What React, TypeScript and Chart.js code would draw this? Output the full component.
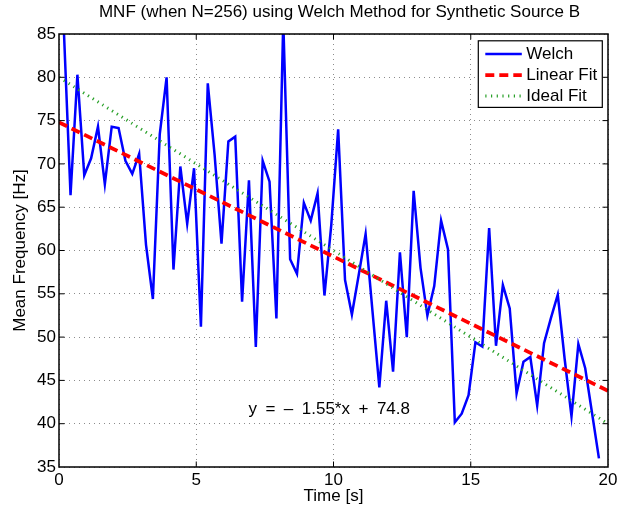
import React, { useEffect, useRef } from "react";
import { Chart, registerables } from "chart.js";

Chart.register(...registerables);

// ---- data ----
const times = [
  0.17, 0.42, 0.67, 0.92, 1.17, 1.42, 1.67, 1.92, 2.17, 2.42,
  2.67, 2.92, 3.17, 3.42, 3.67, 3.92, 4.17, 4.42, 4.67, 4.92,
  5.17, 5.42, 5.67, 5.92, 6.17, 6.42, 6.67, 6.92, 7.17, 7.42,
  7.67, 7.92, 8.17, 8.42, 8.67, 8.92, 9.17, 9.42, 9.67, 9.92,
  10.17, 10.42, 10.67, 10.92, 11.17, 11.42, 11.67, 11.92, 12.17, 12.42,
  12.67, 12.92, 13.17, 13.42, 13.67, 13.92, 14.17, 14.42, 14.67, 14.92,
  15.17, 15.42, 15.67, 15.92, 16.17, 16.42, 16.67, 16.92, 17.17, 17.42,
  17.67, 17.92, 18.17, 18.42, 18.67, 18.92, 19.17, 19.42, 19.67,
];
const welch = [
  86, 66.4, 80.3, 68.7, 70.65, 74.3, 67.65, 74.3, 74.15, 70.35,
  68.85, 71.15, 60.65, 54.4, 73.4, 80.0, 57.8, 69.7, 63.1, 69.5,
  51.2, 79.3, 71, 60.8, 72.6, 73.15, 54.1, 68.1, 48.85, 70.35,
  67.95, 52.15, 86.5, 59.0, 57.3, 65.5, 63.45, 66.6, 54.8, 63,
  74.0, 56.6, 52.6, 57.2, 61.9, 53, 44.2, 54.2, 46.0, 59.8,
  50.0, 66.9, 58.0, 52.5, 55.9, 63.45, 60.15, 40.15, 41.15, 43.3,
  49.4, 48.9, 62.6, 49.0, 56.0, 53.3, 43.5, 47.15, 47.7, 42.1,
  49.3, 52.2, 54.9, 47.5, 40.85, 49.2, 46.4, 41.2, 36.0,
];
const fitSlope = -1.55;
const fitIntercept = 74.8;
const fitX = [0, 20];
const idealX = [0, 20];
const idealY = [80, 40];
const seriesLabels = ["Welch", "Linear Fit", "Ideal Fit"];
const titleText = "MNF (when N=256) using Welch Method for Synthetic Source B";
const xTitle = "Time [s]";
const yTitle = "Mean Frequency [Hz]";
const equationText = "y\u2002=\u2002\u2013\u20021.55*x\u2002+\u200274.8";
const equationAt = { x: 6.9, y: 41.7 };

const FONT = "'Liberation Sans', Arial, Helvetica, sans-serif";
const FS = 17;

export default function App() {
  const ref = useRef<HTMLCanvasElement>(null);

  useEffect(() => {
    const canvas = ref.current;
    if (!canvas) return;

    const overlay = {
      id: "matlabOverlay",
      afterDatasetsDraw(chart: any) {
        const { ctx, chartArea: a, scales } = chart;
        const xs = scales.x;
        const ys = scales.y;
        ctx.save();
        ctx.setLineDash([]);
        // axes box
        ctx.strokeStyle = "#000";
        ctx.lineWidth = 1.5;
        ctx.strokeRect(a.left, a.top, a.right - a.left, a.bottom - a.top);
        // inward ticks
        const tl = 5.5;
        ctx.lineWidth = 1;
        const seg = (x1: number, y1: number, x2: number, y2: number) => {
          ctx.beginPath();
          ctx.moveTo(x1, y1);
          ctx.lineTo(x2, y2);
          ctx.stroke();
        };
        xs.ticks.forEach((t: any) => {
          const px = xs.getPixelForValue(t.value);
          if (px <= a.left + 1 || px >= a.right - 1) return;
          seg(px, a.bottom, px, a.bottom - tl);
          seg(px, a.top, px, a.top + tl);
        });
        ys.ticks.forEach((t: any) => {
          const py = ys.getPixelForValue(t.value);
          if (py <= a.top + 1 || py >= a.bottom - 1) return;
          seg(a.left, py, a.left + tl, py);
          seg(a.right, py, a.right - tl, py);
        });
        // title
        ctx.font = `${FS}px ${FONT}`;
        ctx.fillStyle = "#000";
        ctx.textAlign = "center";
        ctx.textBaseline = "middle";
        ctx.fillText(titleText, (a.left + a.right) / 2 + 6, 12.5);
        // equation text
        ctx.textAlign = "left";
        ctx.fillText(
          equationText,
          xs.getPixelForValue(equationAt.x),
          ys.getPixelForValue(equationAt.y)
        );
        // legend
        const bw = 124;
        const bh = 66.6;
        const bx = a.right - 5.7 - bw;
        const by = a.top + 6.8;
        ctx.fillStyle = "#fff";
        ctx.fillRect(bx, by, bw, bh);
        ctx.strokeStyle = "#000";
        ctx.lineWidth = 1.2;
        ctx.strokeRect(bx, by, bw, bh);
        chart.data.datasets.forEach((ds: any, i: number) => {
          const y = by + 13.3 + i * 21;
          ctx.save();
          ctx.strokeStyle = ds.borderColor;
          ctx.lineWidth = ds.borderWidth;
          ctx.setLineDash(ds.borderDash || []);
          ctx.lineCap = "butt";
          seg(bx + 7, y, bx + 43.5, y);
          ctx.restore();
          ctx.fillStyle = "#000";
          ctx.textAlign = "left";
          ctx.textBaseline = "middle";
          ctx.fillText(ds.label, bx + 48, y);
        });
        ctx.restore();
      },
    };

    const tickFont = { family: FONT, size: FS, weight: "normal" as const };

    const chart = new Chart(canvas, {
      type: "line",
      data: {
        datasets: [
          {
            label: seriesLabels[0],
            data: times.map((t, i) => ({ x: t, y: welch[i] })),
            borderColor: "#0000ff",
            borderWidth: 2.5,
            pointRadius: 0,
            tension: 0,
            clip: 0,
            order: 3,
          },
          {
            label: seriesLabels[1],
            data: fitX.map((x) => ({ x, y: fitSlope * x + fitIntercept })),
            borderColor: "#ff0000",
            borderWidth: 3.8,
            borderDash: [9, 5],
            pointRadius: 0,
            tension: 0,
            clip: 0,
            order: 2,
          },
          {
            label: seriesLabels[2],
            data: idealX.map((x, i) => ({ x, y: idealY[i] })),
            borderColor: "rgb(40,160,40)",
            borderWidth: 3,
            borderDash: [1.2, 4.5],
            pointRadius: 0,
            tension: 0,
            clip: 0,
            order: 1,
          },
        ],
      },
      options: {
        responsive: false,
        animation: false,
        devicePixelRatio: 1,
        layout: { padding: { left: 0, right: 24, top: 34, bottom: 0 } },
        plugins: {
          legend: { display: false },
          tooltip: { enabled: false },
          title: { display: false },
        },
        scales: {
          x: {
            type: "linear",
            min: 0,
            max: 20,
            ticks: {
              stepSize: 5,
              color: "#000",
              font: tickFont,
              padding: 3,
              maxRotation: 0,
            },
            grid: { color: "#8c8c8c", lineWidth: 1, drawTicks: false },
            border: { display: false, dash: [1, 4] },
            title: {
              display: true,
              text: xTitle,
              color: "#000",
              font: tickFont,
              padding: { top: 0, bottom: 6 },
            },
            afterFit: (s: any) => {
              s.height = 46;
            },
          },
          y: {
            type: "linear",
            min: 35,
            max: 85,
            ticks: {
              stepSize: 5,
              color: "#000",
              font: tickFont,
              padding: 3,
            },
            grid: { color: "#8c8c8c", lineWidth: 1, drawTicks: false },
            border: { display: false, dash: [1, 4] },
            title: {
              display: true,
              text: yTitle,
              color: "#000",
              font: tickFont,
              padding: { top: 10, bottom: 0 },
            },
            afterFit: (s: any) => {
              s.width = 59;
            },
          },
        },
      },
      plugins: [overlay],
    } as any);

    return () => chart.destroy();
  }, []);

  return (
    <div style={{ position: "absolute", left: 0, top: 0, width: 632, height: 513 }}>
      <canvas ref={ref} width={632} height={513} style={{ display: "block", width: 632, height: 513 }} />
    </div>
  );
}
